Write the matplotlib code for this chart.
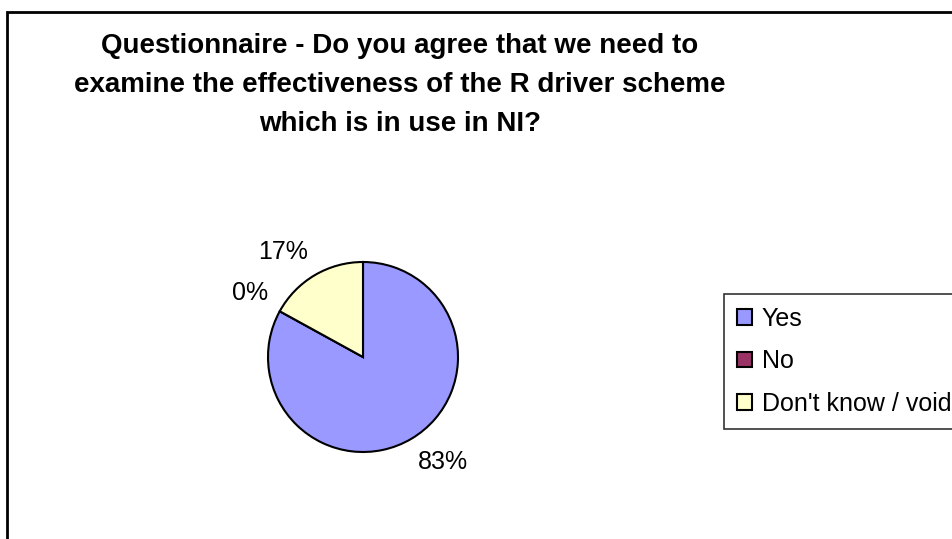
import numpy as np
import matplotlib.pyplot as plt
from matplotlib.patches import Rectangle

plt.rcParams['font.family'] = ['Liberation Sans', 'DejaVu Sans']

W, H = 952, 539

title_lines = [
    "Questionnaire - Do you agree that we need to",
    "examine the effectiveness of the R driver scheme",
    "which is in use in NI?",
]
categories = ["Yes", "No", "Don't know / void"]
percents = [83, 0, 17]
colors = ["#9999FF", "#993366", "#FFFFCC"]

fig = plt.figure(figsize=(W / 100, H / 100), dpi=100)
fig.patch.set_facecolor("white")

# outer chart border (right/bottom edges fall outside the image)
fig.add_artist(Rectangle((7 / W, -0.1), 1.2, (H - 12) / H + 0.1,
                         transform=fig.transFigure, fill=False,
                         edgecolor="black", lw=2))

# title, one line per text
for i, line in enumerate(title_lines):
    y = 1 - (46 + 39 * i) / H
    fig.text(400 / W, y, line, ha="center", va="center",
             fontsize=20, fontweight="bold")

# pie: centre (363, 357) px, radius 95 px
cx, cy, r = 363, 357, 95
ax = fig.add_axes([(cx - r) / W, (H - cy - r) / H, 2 * r / W, 2 * r / H])
wedges, texts, autotexts = ax.pie(
    percents, colors=colors, startangle=90, counterclock=False,
    autopct="%1.0f%%",
    wedgeprops=dict(edgecolor="black", linewidth=1.5),
    textprops=dict(fontsize=18),
)
ax.set_xlim(-1, 1)
ax.set_ylim(-1, 1)
ax.set_aspect("equal")

# Excel-style outside labels: text box corner sits just outside the rim
for w, t in zip(wedges, autotexts):
    a = np.deg2rad((w.theta1 + w.theta2) / 2)
    x, y = 1.14 * np.cos(a), 1.14 * np.sin(a)
    t.set_position((x, y))
    t.set_ha("left" if x > 0 else "right")
    t.set_va("top" if y < 0 else "bottom")

leg = fig.legend(wedges, categories, loc="upper left",
                 bbox_to_anchor=(724 / W, 1 - 294 / H),
                 fontsize=18, frameon=True, fancybox=False,
                 edgecolor="black", handlelength=0.6, handleheight=0.6,
                 handletextpad=0.4, labelspacing=0.75, borderpad=0.5,
                 borderaxespad=0)
leg.get_frame().set_linewidth(1.2)

fig.savefig("out.png", dpi=100)
